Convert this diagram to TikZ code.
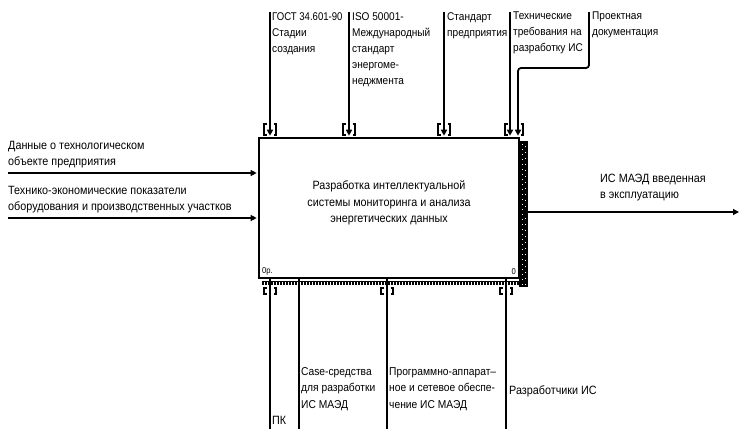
\documentclass[tikz,border=0pt]{standalone}
\usepackage{fontspec}
\setmainfont{Liberation Sans}[FakeStretch=0.9]
\usetikzlibrary{arrows.meta}

% bracket marks around a tunnelled arrow end: x-left, x-right, y-top, y-bottom
\newcommand\tunnelmark[4]{%
  \draw[brk] (#1+2.5,#3) -- (#1,#3) -- (#1,#4) -- (#1+2.5,#4);
  \draw[brk] (#2-2.5,#3) -- (#2,#3) -- (#2,#4) -- (#2-2.5,#4);
}

\begin{document}
\begin{tikzpicture}[x=1pt,y=-1pt,
  lbl/.style={anchor=north west, inner sep=0pt, align=left,
    font=\fontsize{12}{16}\selectfont},
  toplbl/.style={lbl, font=\fontsize{11.2}{16}\selectfont},
  botlbl/.style={lbl, font=\fontsize{11.4}{16.8}\selectfont},
  ctl/.style={line width=1.8pt, -{Triangle[width=6pt,length=6pt]}, shorten >=1pt},
  inp/.style={line width=1.2pt, -{Triangle[width=6pt,length=6pt]}, shorten >=1pt},
  mech/.style={line width=1.6pt},
  brk/.style={line width=1.1pt},
  act/.style={draw, line width=2.6pt, minimum width=260pt, minimum height=140pt,
    inner sep=0pt}]
\useasboundingbox (0,0) rectangle (740,429);

% the activity box and its name
\node[act] (box) at (389,208) {};
\node[align=center, inner sep=0pt, font=\fontsize{12}{16.5}\selectfont] (title) at (389,203)
  {Разработка интеллектуальной\\системы мониторинга и анализа\\энергетических данных};

% start points of the arrows
\coordinate (c1) at (270,12);
\coordinate (c2) at (349,12);
\coordinate (c3) at (444,12);
\coordinate (c4) at (510,12);
\coordinate (c5) at (589,12);
\coordinate (i1) at (8,173);
\coordinate (i2) at (8,218);
\coordinate (o1) at (740,212);
\coordinate (m1) at (270,429);
\coordinate (m2) at (299,429);
\coordinate (m3) at (387,429);
\coordinate (m4) at (506,429);

% mechanisms (lines into the box bottom)
\draw[mech] (m1) -- (m1 |- box.south);
\draw[mech] (m2) -- (m2 |- box.south);
\draw[mech] (m3) -- (m3 |- box.south);
\draw[mech] (m4) -- (m4 |- box.south);

% shadow bands on the right and the bottom
\fill[black] (519,141) rectangle (528,287);
\draw[white, line width=1pt, dash pattern=on 1pt off 4pt] (522,144) -- (522,286);
\draw[white, line width=1pt, dash pattern=on 1pt off 5pt] (525.5,146) -- (525.5,286);
\draw[black, line width=3pt, dash pattern=on 1.5pt off 1.5pt] (262,283.5) -- (519,283.5);
\draw[black, line width=1pt] (262,281) -- (519,281);

% controls
\draw[ctl] (c1) -- (c1 |- box.north);
\draw[ctl] (c2) -- (c2 |- box.north);
\draw[ctl] (c3) -- (c3 |- box.north);
\draw[ctl] (c4) -- (c4 |- box.north);
\coordinate (c5b) at (518,68);
\draw[ctl, rounded corners=3pt] (c5) -- (c5 |- c5b) -- (c5b) -- (c5b |- box.north);

% inputs and output
\draw[inp] (i1) -- (i1 -| box.west);
\draw[inp] (i2) -- (i2 -| box.west);
\draw[inp] (box.east |- o1) -- (o1);

% tunnel brackets
\tunnelmark{264}{276}{124}{135}
\tunnelmark{343}{355}{124}{135}
\tunnelmark{438}{450}{124}{135}
\tunnelmark{505}{523}{124}{135}
\tunnelmark{264}{276}{288}{294}
\tunnelmark{381}{393}{288}{294}
\tunnelmark{500}{512}{288}{294}

% box numbers
\node[anchor=south west, inner sep=0pt, font=\fontsize{8.5}{9}\selectfont] (num) at (262,275) {0р.};
\node[anchor=south east, inner sep=0pt, font=\fontsize{8.5}{9}\selectfont] (nid) at (516,275) {0};

% arrow labels
\node[toplbl] (lc1) at (272,12) {\scalebox{0.95}[1]{ГОСТ 34.601-90}\\Стадии\\создания};
\node[toplbl] (lc2) at (352,12) {ISO 50001-\\Международный\\стандарт\\энергоме-\\неджмента};
\node[toplbl] (lc3) at (447,12) {Стандарт\\предприятия};
\node[toplbl] (lc4) at (513,12) {Технические\\требования на\\разработку ИС};
\node[toplbl] (lc5) at (592,12) {Проектная\\документация};
\node[lbl] (li1) at (8,141) {Данные о технологическом\\объекте предприятия};
\node[lbl] (li2) at (8,186) {Технико-экономические показатели\\оборудования и производственных участков};
\node[lbl] (lo1) at (600,174) {ИС МАЭД введенная\\в эксплуатацию};
\node[lbl] (lm1) at (272,416) {ПК};
\node[botlbl] (lm2) at (301,367) {Case-средства\\для разработки\\ИС МАЭД};
\node[botlbl] (lm3) at (389,367) {Программно-аппарат–\\ное и сетевое обеспе-\\чение ИС МАЭД};
\node[lbl] (lm4) at (509,385) {Разработчики ИС};
\end{tikzpicture}
\end{document}
